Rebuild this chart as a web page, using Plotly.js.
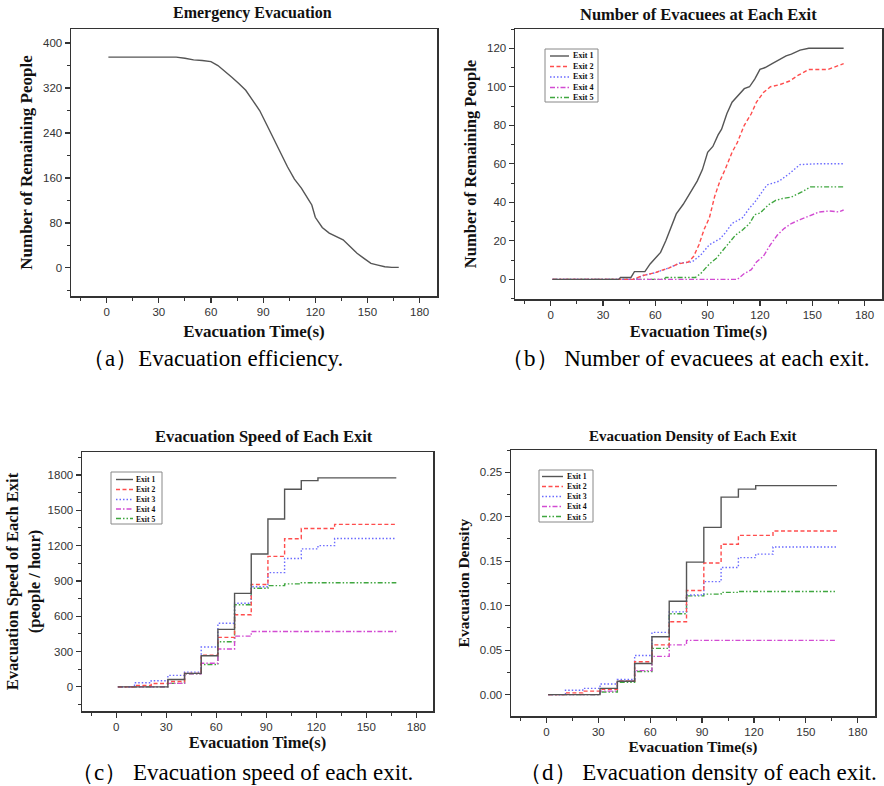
<!DOCTYPE html>
<html><head><meta charset="utf-8">
<script src="https://cdn.plot.ly/plotly-3.0.1.min.js"></script>
<style>body{margin:0;background:#fff}#chart{width:884px;height:786px}</style>
</head><body><div id="chart"></div><script>
// ---------- DATA ----------
// (a) remaining people
const timeA = [1, 10, 20, 30, 40, 45, 50, 55, 60, 64, 68, 72, 76, 80, 84, 88, 92, 96, 100, 104, 108, 112, 116, 118, 120, 124, 128, 132, 136, 140, 144, 148, 152, 156, 160, 164, 168];
const remaining = [375, 375, 375, 375, 375, 373, 370, 369, 367, 360, 350, 339, 328, 316, 298, 280, 255, 230, 207, 180, 158, 142, 122, 112, 90, 72, 62, 56, 50, 38, 26, 17, 8, 5, 2, 1, 1];

// (b) evacuees at each exit
const ex1T = [1, 39, 40, 46, 48, 54, 57, 60, 63, 66, 70, 72, 76, 78, 81, 84, 87, 90, 93, 96, 98, 101, 104, 107, 111, 114, 117, 120, 123, 127, 131, 135, 138, 143, 148, 168];
const ex1N = [0, 0, 1, 1, 4, 4, 8, 11, 14, 20, 29, 34, 39, 42, 46, 51, 57, 66, 69, 75, 78, 86, 92, 95, 99, 100, 104, 109, 110, 112, 114, 116, 117, 119, 120, 120];
const ex2T = [1, 47, 53, 60, 68, 73, 79, 82, 85, 88, 91, 94, 97, 100, 104, 107, 111, 115, 118, 122, 126, 131, 137, 142, 148, 159, 165, 168];
const ex2N = [0, 0, 2, 3.5, 6, 8, 9, 12, 18, 26, 32, 43, 51, 57, 66, 71, 80, 86, 92, 97, 100, 101, 103, 106, 109, 109, 111, 112];
const ex3T = [1, 48, 53, 60, 68, 74, 81, 86, 91, 97, 100, 104, 110, 114, 117, 121, 124, 131, 137, 143, 152, 168];
const ex3N = [0, 0, 2, 3.5, 6, 8.5, 9, 12.6, 18, 21, 24, 29, 32, 37, 40, 45, 49, 51, 55, 59.6, 60, 60];
const ex4T = [1, 107, 111, 115, 118, 122, 126, 130, 134, 138, 143, 148, 154, 160, 165, 168];
const ex4N = [0, 0, 3, 5, 9, 12, 18, 23, 26.5, 29, 31, 33, 35, 35.5, 35, 36];
const ex5T = [1, 65, 66, 83, 86, 91, 95, 98, 102, 106, 110, 114, 117, 120, 125, 129, 133, 138, 144, 149, 168];
const ex5N = [0, 0, 1, 1, 3, 8, 11, 14.4, 18.7, 23, 25.6, 29, 33.6, 34.4, 38.8, 41, 42, 42.7, 45.4, 48, 48];

// (c)/(d) step times
const stepT = [1, 11, 21, 31, 41, 51, 61, 71, 81, 91, 101, 111, 121, 131, 168];
// (c) speed (people / hour)
const speed1 = [0, 0, 0, 62, 115, 264, 488, 794, 1128, 1426, 1678, 1752, 1775, 1775, 1775];
const speed2 = [0, 12, 28, 45, 115, 270, 420, 612, 870, 1108, 1258, 1345, 1345, 1380, 1380];
const speed3 = [0, 35, 52, 98, 125, 338, 540, 710, 850, 970, 1090, 1172, 1200, 1260, 1260];
const speed4 = [0, 0, 0, 30, 110, 200, 322, 431, 470, 470, 470, 470, 470, 470, 470];
const speed5 = [0, 0, 0, 30, 110, 190, 383, 697, 838, 860, 875, 885, 885, 885, 885];
// (d) density
const dens1 = [0, 0, 0, 0.007, 0.015, 0.035, 0.065, 0.105, 0.149, 0.188, 0.222, 0.231, 0.235, 0.235, 0.235];
const dens2 = [0, 0.002, 0.004, 0.006, 0.015, 0.037, 0.056, 0.082, 0.117, 0.148, 0.169, 0.179, 0.179, 0.184, 0.184];
const dens3 = [0, 0.005, 0.007, 0.012, 0.017, 0.044, 0.070, 0.093, 0.112, 0.127, 0.143, 0.154, 0.158, 0.166, 0.166];
const dens4 = [0, 0, 0, 0.004, 0.015, 0.027, 0.043, 0.056, 0.061, 0.061, 0.061, 0.061, 0.061, 0.061, 0.061];
const dens5 = [0, 0, 0, 0.003, 0.014, 0.026, 0.052, 0.091, 0.111, 0.113, 0.115, 0.116, 0.116, 0.116, 0.116];

const exitNames = ['Exit 1', 'Exit 2', 'Exit 3', 'Exit 4', 'Exit 5'];
const exitColors = ['#555555', '#ff4d4d', '#6b6bff', '#d24bd2', '#3fa63f'];
const exitDashes = ['solid', '4px,2.5px', '1.5px,2px', '5px,2px,1.5px,2px', '5px,2px,1.5px,2px,1.5px,2px'];

// ---------- LAYOUT HELPERS ----------
const W = 884, H = 786;
const px = v => v / W, py = v => 1 - v / H;
const SERIF = 'Liberation Serif, Times New Roman, serif';
const SANS = 'Liberation Sans, Arial, sans-serif';
const AX = '#333';

function baseAxis(domain, anchor, range, dtick, minor, extra) {
  return Object.assign({
    domain: domain, anchor: anchor, range: range, tick0: 0, dtick: dtick,
    ticks: 'outside', ticklen: 5, tickwidth: 1.2, tickcolor: AX,
    showline: true, linecolor: AX, linewidth: 1.5, mirror: true,
    showgrid: false, zeroline: false,
    tickfont: {family: SANS, size: 11.5, color: '#333'},
    minor: {dtick: minor, tick0: 0, ticks: 'outside', ticklen: 3, tickwidth: 1, tickcolor: AX},
    fixedrange: true
  }, extra || {});
}
function mirrorAxis(over, anchor, side, range, dtick, minor) {
  return {
    overlaying: over, anchor: anchor, side: side, range: range, tick0: 0, dtick: dtick,
    ticks: 'inside', ticklen: 5, tickwidth: 1.2, tickcolor: AX,
    showticklabels: false, showline: false, showgrid: false, zeroline: false,
    minor: {dtick: minor, tick0: 0, ticks: 'inside', ticklen: 3, tickwidth: 1, tickcolor: AX},
    fixedrange: true
  };
}
const xTitle = (size, st) => ({text: '<b>Evacuation Time(s)</b>', font: {family: SERIF, size: size, color: '#111'}, standoff: st});

const xr = [-20.5, 190];
const rangeA = [-50, 425], rangeB = [-10.2, 130], rangeC = [-205, 1995], rangeD = [-0.024, 0.275];

const layout = {
  width: W, height: H, margin: {l: 0, r: 0, t: 0, b: 0},
  paper_bgcolor: '#fff', plot_bgcolor: '#fff', showlegend: false,
  xaxis: baseAxis([px(71), px(437)], 'y', xr, 30, 15, {title: xTitle(17, 8)}),
  yaxis: baseAxis([py(296), py(29)], 'x', rangeA, 80, 40, {title: {text: '<b>Number of Remaining People</b>', font: {family: SERIF, size: 17, color: '#111'}, standoff: 6}}),
  xaxis2: baseAxis([px(515), px(882)], 'y2', xr, 30, 15, {title: xTitle(16.5, 5)}),
  yaxis2: baseAxis([py(299), py(29)], 'x2', rangeB, 20, 10, {title: {text: '<b>Number of Remaining People</b>', font: {family: SERIF, size: 16.5, color: '#111'}, standoff: 6}}),
  xaxis3: baseAxis([px(82), px(433)], 'y3', xr, 30, 15, {title: xTitle(16.5, 4)}),
  yaxis3: baseAxis([py(711), py(452)], 'x3', rangeC, 300, 150, {title: {text: '<b>Evacuation Speed of Each Exit<br>(people / hour)</b>', font: {family: SERIF, size: 16.5, color: '#111'}, standoff: 3}}),
  xaxis4: baseAxis([px(511), px(875)], 'y4', xr, 30, 15, {title: xTitle(15.5, 4)}),
  yaxis4: baseAxis([py(716), py(450)], 'x4', rangeD, 0.05, 0.025, {tickformat: '.2f', title: {text: '<b>Evacuation Density</b>', font: {family: SERIF, size: 15.5, color: '#111'}, standoff: 6}}),
  xaxis5: mirrorAxis('x', 'y', 'top', xr, 30, 15),
  yaxis5: mirrorAxis('y', 'x', 'right', rangeA, 80, 40),
  xaxis6: mirrorAxis('x2', 'y2', 'top', xr, 30, 15),
  yaxis6: mirrorAxis('y2', 'x2', 'right', rangeB, 20, 10),
  xaxis7: mirrorAxis('x3', 'y3', 'top', xr, 30, 15),
  yaxis7: mirrorAxis('y3', 'x3', 'right', rangeC, 300, 150),
  xaxis8: mirrorAxis('x4', 'y4', 'top', xr, 30, 15),
  yaxis8: mirrorAxis('y4', 'x4', 'right', rangeD, 0.05, 0.025),
  shapes: [], annotations: []
};

// titles & captions
function ann(text, x, y, size, opts) {
  layout.annotations.push(Object.assign({text: text, xref: 'paper', yref: 'paper', x: px(x), y: py(y),
    xanchor: 'center', yanchor: 'middle', showarrow: false, font: {family: SERIF, size: size, color: '#111'}}, opts || {}));
}
ann('<b>Emergency Evacuation</b>', 252, 13, 16);
ann('<b>Number of Evacuees at Each Exit</b>', 698, 15, 16.5);
ann('<b>Evacuation Speed of Each Exit</b>', 264, 437, 16.5);
ann('<b>Evacuation Density of Each Exit</b>', 693, 436, 15);
const capFont = {family: SERIF, size: 23, color: '#000'};
ann('（a）Evacuation efficiency.', 212, 358, 23, {font: capFont});
ann('（b） Number of evacuees at each exit.', 685, 358, 23, {font: capFont});
ann('（c） Evacuation speed of each exit.', 242, 772, 23, {font: capFont});
ann('（d） Evacuation density of each exit.', 698, 772, 23, {font: capFont});

// manual legends (Plotly legend rows have a large minimum height); one text block per legend
function legendBox(box, rows, sx0, sx1, tx, fs) {
  layout.shapes.push({type: 'rect', xref: 'paper', yref: 'paper', x0: px(box[0]), x1: px(box[2]), y0: py(box[3]), y1: py(box[1]),
    line: {color: '#888', width: 1}, fillcolor: '#fff', layer: 'above'});
  exitNames.forEach((nm, i) => {
    layout.shapes.push({type: 'line', xref: 'paper', yref: 'paper', x0: px(sx0), x1: px(sx1), y0: py(rows[i]), y1: py(rows[i]),
      line: {color: exitColors[i], width: 1.4, dash: exitDashes[i]}, layer: 'above'});
  });
  const mid = (rows[0] + rows[4]) / 2;
  layout.annotations.push({text: exitNames.map(n => '<b>' + n + '</b>').join('<br>'), xref: 'paper', yref: 'paper',
    x: px(tx), y: py(mid), xanchor: 'left', yanchor: 'middle', align: 'left', showarrow: false,
    font: {family: SERIF, size: fs, color: '#111'}});
}
legendBox([545, 49, 598, 102], [56, 66.5, 77, 87.5, 97.5], 550, 569, 571, 8.1);
legendBox([111, 472, 162, 524], [479.5, 489.5, 499.5, 509, 518.5], 116, 133, 134, 7.6);
legendBox([539, 470, 593, 522], [476.5, 486.5, 496.5, 506.5, 516.5], 542, 563, 565, 7.8);

// ---------- TRACES ----------
const traces = [];
traces.push({x: timeA, y: remaining, type: 'scatter', mode: 'lines', xaxis: 'x', yaxis: 'y',
  line: {color: '#555', width: 1.4}, name: 'Remaining'});
const bT = [ex1T, ex2T, ex3T, ex4T, ex5T], bN = [ex1N, ex2N, ex3N, ex4N, ex5N];
const cS = [speed1, speed2, speed3, speed4, speed5], dS = [dens1, dens2, dens3, dens4, dens5];
for (let i = 4; i >= 0; i--) {
  const ln = {color: exitColors[i], width: 1.4, dash: exitDashes[i]};
  traces.push({x: bT[i], y: bN[i], type: 'scatter', mode: 'lines', xaxis: 'x2', yaxis: 'y2', line: ln, name: exitNames[i]});
  traces.push({x: stepT, y: cS[i], type: 'scatter', mode: 'lines', xaxis: 'x3', yaxis: 'y3', line: Object.assign({shape: 'hv'}, ln), name: exitNames[i]});
  traces.push({x: stepT, y: dS[i], type: 'scatter', mode: 'lines', xaxis: 'x4', yaxis: 'y4', line: Object.assign({shape: 'hv'}, ln), name: exitNames[i]});
}

Plotly.newPlot('chart', traces, layout, {staticPlot: true, displayModeBar: false});
</script></body></html>
